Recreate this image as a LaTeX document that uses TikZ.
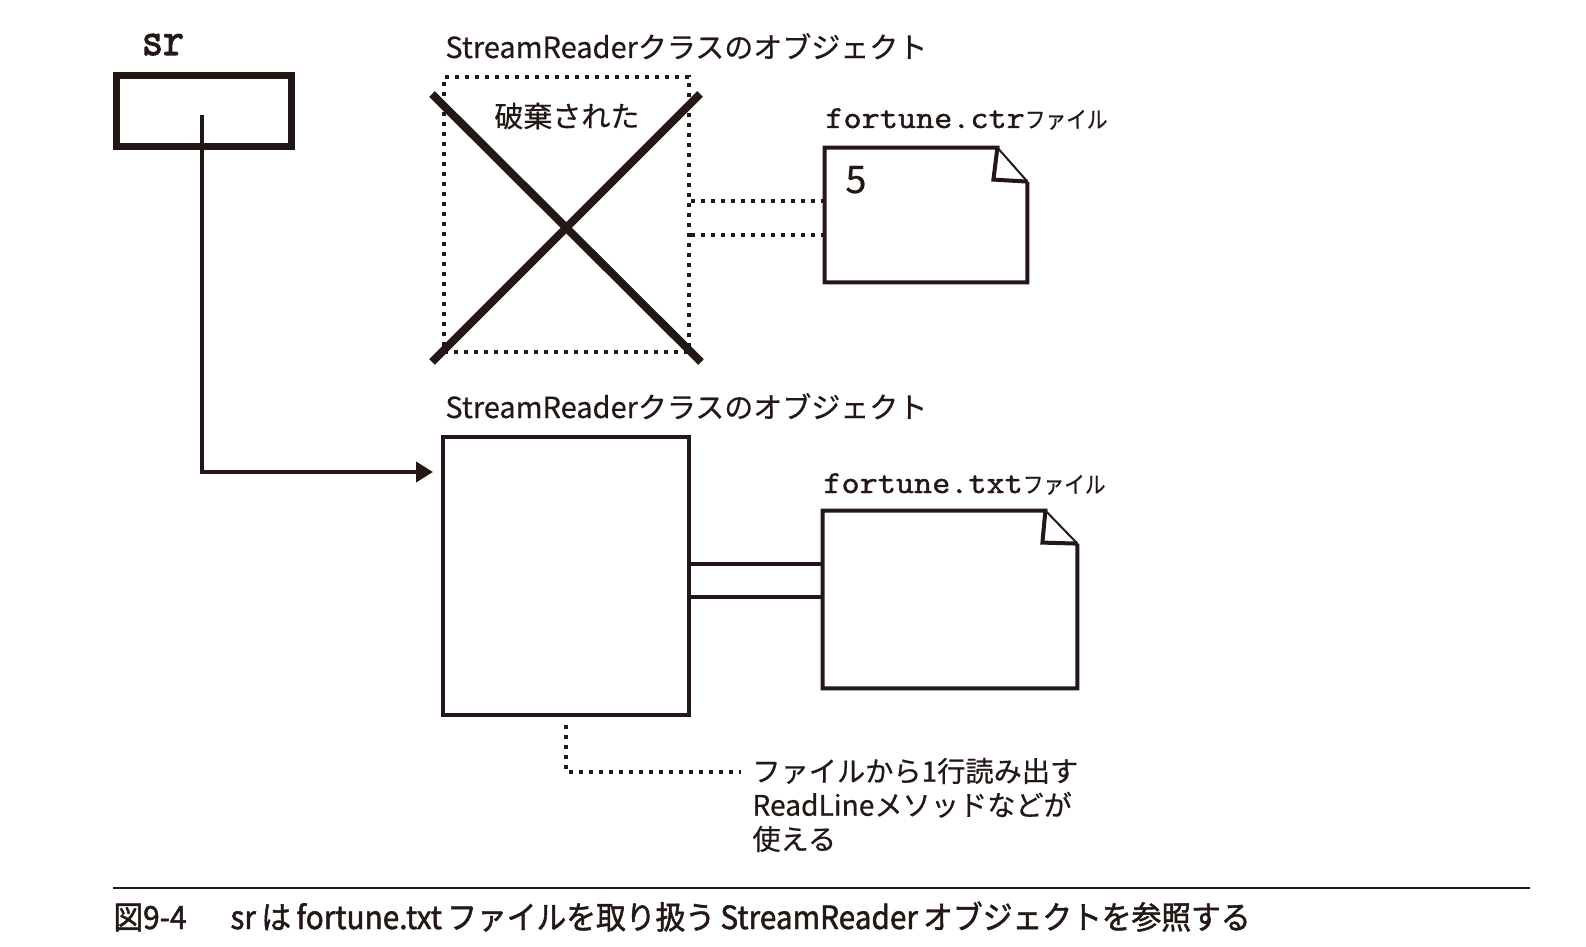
\documentclass[tikz,border=0pt]{standalone}
\usepackage{fontspec}
\setmainfont{Noto Sans CJK JP}
\newfontfamily\jp[FakeBold=0.5]{Noto Sans CJK JP}
\newfontfamily\jpc[FakeStretch=0.9,FakeBold=0.5]{Noto Sans CJK JP}
\newfontfamily\capfont[FakeStretch=0.93,FakeBold=1.5]{Noto Sans CJK JP}
\newfontfamily\monof[FakeStretch=1.1,FakeBold=1.5]{Latin Modern Mono}
\newfontfamily\monosr[FakeStretch=0.85,FakeBold=2.2]{Latin Modern Mono}
\usetikzlibrary{arrows.meta,calc}
\definecolor{ink}{RGB}{35,24,21}
\tikzset{
  srbox/.style={draw=ink, line width=3.5pt, minimum width=87.5pt, minimum height=35.5pt, inner sep=0pt},
  objbox/.style={draw=ink, line width=2pt, minimum width=123pt, minimum height=139pt, inner sep=0pt},
  dotline/.style={draw=ink, line width=2pt, dash pattern=on 2pt off 3pt},
  dotbox/.style={dotline, minimum width=122.5pt, minimum height=137.5pt, inner sep=0pt},
  filebox/.style={inner sep=0pt},
  fileline/.style={draw=ink, line width=2pt, line join=miter},
  foldline/.style={draw=ink, line width=1pt},
  crossline/.style={draw=ink, line width=4pt},
  conn/.style={draw=ink, line width=2pt},
  lbl/.style={text=ink, inner sep=0pt, font=\jp\fontsize{14.5}{16}\selectfont},
}
\begin{document}
\begin{tikzpicture}[x=0.5pt,y=-0.5pt]
\useasboundingbox (0,0) rectangle (1586,947);
\fill[white] (0,0) rectangle (1586,947);

% reference variable
\node[srbox] (sr) at (204,111) {};
\node[lbl, anchor=base] (srl) at (163,55) {\monosr\fontsize{24}{25}\selectfont sr};

% discarded object
\node[dotbox] (objA) at (566.5,214.5) {};
\node[lbl, anchor=base west] (la) at (445,58) {StreamReaderクラスのオブジェクト};
\node[lbl, anchor=base west] (del) at (494,127) {破棄された};
\coordinate (xa) at (432,94);
\coordinate (xb) at (701,362);
\coordinate (xc) at (432,362);
\coordinate (xd) at (700,94);
\draw[crossline] (xa) -- (xb);
\draw[crossline] (xc) -- (xd);

% fortune.ctr file
\node[filebox, minimum width=101pt, minimum height=67pt] (ctr) at (926,215) {};
\draw[fileline] ($(ctr.north east)+(0,34)$) -- (ctr.south east) -- (ctr.south west) -- (ctr.north west)
  -- ($(ctr.north east)+(-30,0)$) -- ($(ctr.north east)+(-34,32)$) -- ($(ctr.north east)+(0,34)$);
\draw[foldline] ($(ctr.north east)+(-30,0)$) -- ($(ctr.north east)+(0,34)$);
\node[lbl, anchor=base west] (lc) at (825,128) {{\monof\fontsize{16}{18}\selectfont fortune.ctr}{\jpc\fontsize{11.5}{12}\selectfont ファイル}};
\node[lbl, anchor=base west] (five) at (845,193) {\fontsize{19}{20}\selectfont 5};

\coordinate (d1) at (0,201);
\coordinate (d2) at (0,235);
\draw[dotline] (objA.east |- d1) -- (ctr.west |- d1);
\draw[dotline] (objA.east |- d2) -- (ctr.west |- d2);

% current object
\node[objbox] (objB) at (566,576) {};
\node[lbl, anchor=base west] (lb) at (445,418) {StreamReaderクラスのオブジェクト};

% fortune.txt file
\node[filebox, minimum width=127pt, minimum height=88.5pt] (txt) at (950,599.5) {};
\draw[fileline] ($(txt.north east)+(0,33)$) -- (txt.south east) -- (txt.south west) -- (txt.north west)
  -- ($(txt.north east)+(-32,0)$) -- ($(txt.north east)+(-35,32)$) -- ($(txt.north east)+(0,33)$);
\draw[foldline] ($(txt.north east)+(-32,0)$) -- ($(txt.north east)+(0,33)$);
\node[lbl, anchor=base west] (lt) at (823,493) {{\monof\fontsize{16}{18}\selectfont fortune.txt}{\jpc\fontsize{11.5}{12}\selectfont ファイル}};

\coordinate (s1) at (0,564);
\coordinate (s2) at (0,597);
\draw[conn] (objB.east |- s1) -- (txt.west |- s1);
\draw[conn] (objB.east |- s2) -- (txt.west |- s2);

% reference arrow
\coordinate (srin) at (202,115);
\draw[conn, -{Triangle[length=8.5pt,width=10pt]}] (srin) |- ([xshift=-4pt,yshift=-18.5pt]objB.north west);

% note
\node[lbl, anchor=west, align=left, font=\jp\fontsize{14.1}{17}\selectfont] (note) at (752,805)
  {ファイルから1行読み出す\\ReadLineメソッドなどが\\使える};
\coordinate (nc) at (741,772);
\draw[dotline] ([yshift=-4pt]objB.south) |- (nc);

% caption
\coordinate (r1) at (113,888);
\coordinate (r2) at (1530,888);
\draw[draw=ink, line width=0.75pt] (r1) -- (r2);
\node[lbl, anchor=base west] (cap) at (113,929)
  {\capfont\fontsize{16}{17}\selectfont 図9-4\hspace{22pt}sr\,は\,fortune.txt\,ファイルを取り扱う\,StreamReader\,オブジェクトを参照する};
\end{tikzpicture}
\end{document}
